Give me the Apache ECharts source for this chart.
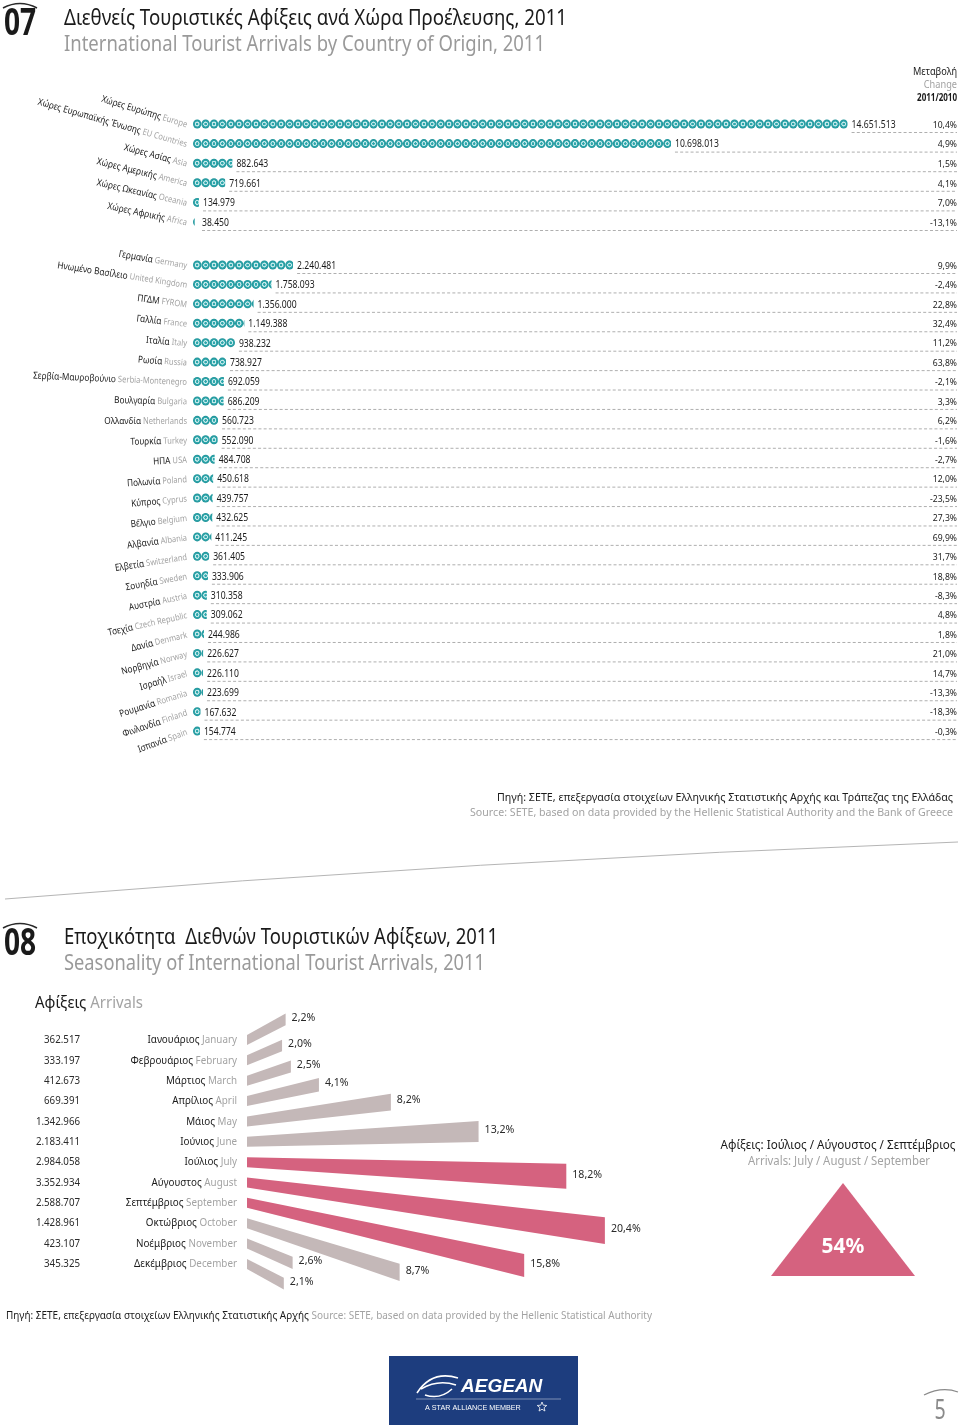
<!DOCTYPE html>
<html><head><meta charset="utf-8">
<script src="https://cdn.jsdelivr.net/npm/echarts@6/dist/echarts.min.js"></script>
<style>html,body{margin:0;padding:0;background:#fff}#c{width:960px;height:1425px}</style>
</head><body><div id="c"></div>
<script>
// ---------- DATA ----------
const regionsGr = ['Χώρες Ευρώπης','Χώρες Ευρωπαϊκής Ένωσης','Χώρες Ασίας','Χώρες Αμερικής','Χώρες Ωκεανίας','Χώρες Αφρικής'];
const regionsEn = ['Europe','EU Countries','Asia','America','Oceania','Africa'];
const regionValues = [14651513, 10698013, 882643, 719661, 134979, 38450];
const regionChange = [10.4, 4.9, 1.5, 4.1, 7.0, -13.1];

const countriesGr = ['Γερμανία','Ηνωμένο Βασίλειο','ΠΓΔΜ','Γαλλία','Ιταλία','Ρωσία','Σερβία-Μαυροβούνιο','Βουλγαρία','Ολλανδία','Τουρκία','ΗΠΑ','Πολωνία','Κύπρος','Βέλγιο','Αλβανία','Ελβετία','Σουηδία','Αυστρία','Τσεχία','Δανία','Νορβηγία','Ισραήλ','Ρουμανία','Φινλανδία','Ισπανία'];
const countriesEn = ['Germany','United Kingdom','FYROM','France','Italy','Russia','Serbia-Montenegro','Bulgaria','Netherlands','Turkey','USA','Poland','Cyprus','Belgium','Albania','Switzerland','Sweden','Austria','Czech Republic','Denmark','Norway','Israel','Romania','Finland','Spain'];
const countryValues = [2240481,1758093,1356000,1149388,938232,738927,692059,686209,560723,552090,484708,450618,439757,432625,411245,361405,333906,310358,309062,244986,226627,226110,223699,167632,154774];
const countryChange = [9.9,-2.4,22.8,32.4,11.2,63.8,-2.1,3.3,6.2,-1.6,-2.7,12.0,-23.5,27.3,69.9,31.7,18.8,-8.3,4.8,1.8,21.0,14.7,-13.3,-18.3,-0.3];

const monthsGr = ['Ιανουάριος','Φεβρουάριος','Μάρτιος','Απρίλιος','Μάιος','Ιούνιος','Ιούλιος','Αύγουστος','Σεπτέμβριος','Οκτώβριος','Νοέμβριος','Δεκέμβριος'];
const monthsEn = ['January','February','March','April','May','June','July','August','September','October','November','December'];
const monthArrivals = [362517,333197,412673,669391,1342966,2183411,2984058,3352934,2588707,1428961,423107,345325];
const monthShare = [2.2,2.0,2.5,4.1,8.2,13.2,18.2,20.4,15.8,8.7,2.6,2.1];
const summerMonths = [6,7,8];
const summerShare = 54;

// ---------- HELPERS ----------
const FONT = 'Noto Sans';
const BLACK = '#1a1a1a', GREY = '#a3a3a3', PINK = '#d5627f', TAUPE = '#c4b8b8';
const mctx = document.createElement('canvas').getContext('2d');
function tw(t, size, weight) { mctx.font = (weight || 'normal') + ' ' + size + 'px "' + FONT + '"'; return mctx.measureText(t).width; }
function fit(t, size, target, weight) { return target / tw(t, size, weight); }
function fmtInt(v) { return String(v).replace(/\B(?=(\d{3})+(?!\d))/g, '.'); }
function fmtPct(v) { return v.toFixed(1).replace('.', ',') + '%'; }

const X_MAX = 17100000;
const BEAD = 8.4;
const beadColor = {type:'radial', x:0.5, y:0.5, r:0.5, colorStops:[
  {offset:0, color:'#2ea7ac'},{offset:0.24, color:'#2ea7ac'},{offset:0.34, color:'#c4e9ea'},
  {offset:0.5, color:'#c4e9ea'},{offset:0.6, color:'#31a8ad'},{offset:1, color:'#1e9298'}]};

function rowSeries(gi, gr, en, values, change, rotDeg) {
  return [{
    type:'pictorialBar', xAxisIndex:gi, yAxisIndex:gi, data: values,
    symbol:'circle', symbolRepeat:true, symbolClip:true, symbolSize:[BEAD, 9], symbolMargin:0,
    itemStyle:{color: beadColor}, silent:true, z:3
  },{
    type:'custom', xAxisIndex:gi, yAxisIndex:gi, silent:true, z:4,
    data: values.map((v, i) => [v, i, change[i]]),
    renderItem: function (params, api) {
      const i = params.dataIndex;
      const base = api.coord([0, i]);
      const end = api.coord([api.value(0), i]);
      const right = api.coord([X_MAX, i]);
      const lx = Math.max(end[0], base[0] + 5) + 4;
      return {type:'group', children:[
        {type:'text', x: base[0] - 6, y: base[1] + 1, rotation: rotDeg(i) * Math.PI / 180, scaleX: 0.86,
          style:{text:'{g|' + gr[i] + '} {e|' + en[i] + '}', fontSize:9, fontFamily:FONT,
            align:'right', verticalAlign:'middle',
            rich:{g:{fontSize:9.6, fontFamily:FONT, fill:BLACK}, e:{fontSize:8.8, fontFamily:FONT, fill:GREY}}}},
        {type:'text', x: lx, y: end[1] + 1, scaleX: 0.86,
          style:{text: fmtInt(api.value(0)), fontSize:10, fontFamily:FONT, fill:BLACK, align:'left', verticalAlign:'middle'}},
        {type:'line', shape:{x1: lx, y1: end[1] + 8.5, x2: right[0], y2: end[1] + 8.5},
          style:{stroke:'#9b9b9b', lineWidth:0.8, lineDash:[3, 2.2]}},
        {type:'text', x: right[0], y: end[1] + 1, scaleX: 0.88,
          style:{text: fmtPct(api.value(2)), fontSize:9.8, fontFamily:FONT, fill:BLACK, align:'right', verticalAlign:'middle'}}
      ]};
    }
  }];
}

// ---------- GRAPHIC (texts & decoration) ----------
const G = [];
function txt(x, y, text, size, color, opts) {
  opts = opts || {};
  G.push({type:'text', x, y, scaleX: opts.scaleX || 1, z:10,
    style:Object.assign({text, fontSize:size, fontFamily:FONT, fill:color, fontWeight: opts.weight || 'normal',
      align: opts.align || 'left', verticalAlign:'middle'}, opts.style || {})});
}
function fitTxt(x, y, text, size, color, target, opts) {
  opts = opts || {};
  opts.scaleX = fit(text, size, target, opts.weight);
  txt(x, y, text, size, color, opts);
}
function arc(x1, x2, y, h, w) {
  G.push({type:'bezierCurve', z:10, shape:{x1, y1:y, x2, y2:y, cpx1:(x1 + x2) / 2, cpy1:y - h},
    style:{stroke:'#2a2a2a', lineWidth:w || 1.4, fill:null}});
}
function mixed(x, y, a, b, size, target, align) {
  const s = fit(a + ' ' + b, size, target);
  G.push({type:'text', x, y, scaleX:s, z:10, style:{text:'{a|' + a + '} {b|' + b + '}', fontSize:size, fontFamily:FONT,
    align: align || 'left', verticalAlign:'middle',
    rich:{a:{fontSize:size, fontFamily:FONT, fill:BLACK}, b:{fontSize:size, fontFamily:FONT, fill:GREY}}}});
}

// Section 07 header
txt(4, 24, '07', 38, BLACK, {weight:'bold', scaleX:0.74});
arc(3, 37, 8, 9, 1.6);
fitTxt(64, 19, 'Διεθνείς Τουριστικές Αφίξεις ανά Χώρα Προέλευσης, 2011', 22, BLACK, 503);
fitTxt(64, 45, 'International Tourist Arrivals by Country of Origin, 2011', 22, '#9a9a9a', 481);
txt(957, 72, 'Μεταβολή', 10, BLACK, {align:'right', scaleX:0.92});
txt(957, 85, 'Change', 10, GREY, {align:'right', scaleX:0.92});
txt(957, 98, '2011/2010', 10, BLACK, {align:'right', weight:'bold', scaleX:0.8});
fitTxt(953, 798, 'Πηγή: ΣΕΤΕ, επεξεργασία στοιχείων Ελληνικής Στατιστικής Αρχής και Τράπεζας της Ελλάδας', 11, BLACK, 456, {align:'right'});
fitTxt(953, 813, 'Source: SETE, based on data provided by the Hellenic Statistical Authority and the Bank of Greece', 11, GREY, 483, {align:'right'});

// divider
G.push({type:'bezierCurve', z:1, shape:{x1:5, y1:899, x2:958, y2:842, cpx1:480, cpy1:860},
  style:{stroke:'#b5b5b5', lineWidth:1, fill:null}});

// Section 08 header
txt(4, 944, '08', 38, BLACK, {weight:'bold', scaleX:0.74});
arc(3, 37, 928, 9, 1.6);
fitTxt(64, 938, 'Εποχικότητα  Διεθνών Τουριστικών Αφίξεων, 2011', 22, BLACK, 434);
fitTxt(64, 964, 'Seasonality of International Tourist Arrivals, 2011', 22, '#9a9a9a', 421);
mixed(35, 1004, 'Αφίξεις', 'Arrivals', 15.5, 108);

// summer box
fitTxt(838, 1145, 'Αφίξεις: Ιούλιος / Αύγουστος / Σεπτέμβριος', 13, BLACK, 235, {align:'center'});
fitTxt(839, 1161, 'Arrivals: July / August / September', 13, GREY, 182, {align:'center'});
G.push({type:'polygon', z:5, shape:{points:[[843, 1183], [915, 1276], [771, 1276]]}, style:{fill:PINK}});
txt(843, 1247, summerShare + '%', 22, '#ffffff', {align:'center', weight:'bold', scaleX:0.95});

// bottom source
mixed(6, 1316, 'Πηγή: ΣΕΤΕ, επεξεργασία στοιχείων Ελληνικής Στατιστικής Αρχής', 'Source: SETE, based on data provided by the Hellenic Statistical Authority', 10.5, 646);

// logo
G.push({type:'rect', z:5, shape:{x:389, y:1356, width:189, height:69}, style:{fill:'#1d3d7e'}});
G.push({type:'text', x:461, y:1387, z:6, style:{text:'AEGEAN', fontSize:19, fontFamily:'Liberation Sans', fontWeight:'bold', fontStyle:'italic', fill:'#ffffff', align:'left', verticalAlign:'middle'}});
[[417,1393,458,1378,432,1370],[421,1389,456,1385,438,1379],[425,1395,452,1389,440,1400]].forEach(p => {
  G.push({type:'bezierCurve', z:6, shape:{x1:p[0], y1:p[1], x2:p[2], y2:p[3], cpx1:p[4], cpy1:p[5]}, style:{stroke:'#ffffff', lineWidth:1.6, fill:null}});
});
G.push({type:'line', z:6, shape:{x1:416, y1:1399, x2:561, y2:1399}, style:{stroke:'rgba(255,255,255,0.55)', lineWidth:0.8}});
G.push({type:'text', x:425, y:1408, z:6, style:{text:'A STAR ALLIANCE MEMBER', fontSize:7.2, fontFamily:'Liberation Sans', fill:'#ffffff', align:'left', verticalAlign:'middle'}});
(function(){ const pts=[]; for (let k=0;k<10;k++){ const r=k%2?2.2:5; const a=-Math.PI/2+k*Math.PI/5; pts.push([542+r*Math.cos(a),1407+r*Math.sin(a)]);} G.push({type:'polygon', z:6, shape:{points:pts}, style:{fill:null, stroke:'#ffffff', lineWidth:0.8}}); })();

// page number
txt(940, 1411, '5', 28, '#8a8a8a', {align:'center', scaleX:0.7});
G.push({type:'bezierCurve', z:10, shape:{x1:924, y1:1395, x2:958, y2:1392, cpx1:942, cpy1:1386}, style:{stroke:'#8a8a8a', lineWidth:1.2, fill:null}});

// ---------- SEASONALITY SERIES ----------
const seasonSeries = {
  type:'custom', xAxisIndex:2, yAxisIndex:2, silent:true, z:4,
  data: monthShare.map((v, i) => [v, i]),
  renderItem: function (params, api) {
    const i = params.dataIndex;
    const p0 = api.coord([0, i]);
    const p1 = api.coord([api.value(0), i]);
    const L = p1[0] - p0[0];
    const th = (i - 5.5) * 5.1 * Math.PI / 180;
    const yc1 = p0[1] + L * Math.tan(th);
    const h0 = 10, h1 = 10 + 0.047 * L;
    const col = summerMonths.indexOf(i) >= 0 ? PINK : TAUPE;
    return {type:'group', children:[
      {type:'polygon', shape:{points:[[p0[0], p0[1] - h0 / 2], [p1[0], yc1 - h1 / 2], [p1[0], yc1 + h1 / 2], [p0[0], p0[1] + h0 / 2]]}, style:{fill:col}},
      {type:'text', x:p1[0] + 6, y:yc1 - 2, scaleX:0.92, style:{text:fmtPct(api.value(0)), fontSize:11.5, fontFamily:FONT, fill:'#2a2a2a', align:'left', verticalAlign:'middle'}},
      {type:'text', x:80, y:p0[1], scaleX:0.86, style:{text:fmtInt(monthArrivals[i]), fontSize:11.3, fontFamily:FONT, fill:'#2a2a2a', align:'right', verticalAlign:'middle'}},
      {type:'text', x:p0[0] - 10, y:p0[1], scaleX:0.87, style:{text:'{g|' + monthsGr[i] + '} {e|' + monthsEn[i] + '}', fontSize:11.3, fontFamily:FONT,
        align:'right', verticalAlign:'middle', rich:{g:{fontSize:11.3, fontFamily:FONT, fill:BLACK}, e:{fontSize:11.3, fontFamily:FONT, fill:GREY}}}}
    ]};
  }
};

// ---------- CHART ----------
const chart = echarts.init(document.getElementById('c'), null, {renderer:'canvas', width:960, height:1425});
const hiddenVal = (max) => ({type:'value', min:0, max, show:false});
chart.setOption({
  animation:false,
  backgroundColor:'#ffffff',
  grid:[
    {left:193, width:764, top:114.2, height:117.6, outerBoundsMode:'none', containLabel:false},
    {left:193, width:764, top:255.3, height:485.5, outerBoundsMode:'none', containLabel:false},
    {left:247, width:500, top:1029.8, height:244.3, outerBoundsMode:'none', containLabel:false}
  ],
  xAxis:[Object.assign({gridIndex:0}, hiddenVal(X_MAX)), Object.assign({gridIndex:1}, hiddenVal(X_MAX)), Object.assign({gridIndex:2}, hiddenVal(28.5))],
  yAxis:[
    {gridIndex:0, type:'category', data:regionsEn, inverse:true, show:false},
    {gridIndex:1, type:'category', data:countriesEn, inverse:true, show:false},
    {gridIndex:2, type:'category', data:monthsEn, inverse:true, show:false}
  ],
  series: [].concat(
    rowSeries(0, regionsGr, regionsEn, regionValues, regionChange, i => -17 + i),
    rowSeries(1, countriesGr, countriesEn, countryValues, countryChange, i => -10 + i * 1.25),
    [seasonSeries]
  ),
  graphic: G
});
</script>
</body></html>
